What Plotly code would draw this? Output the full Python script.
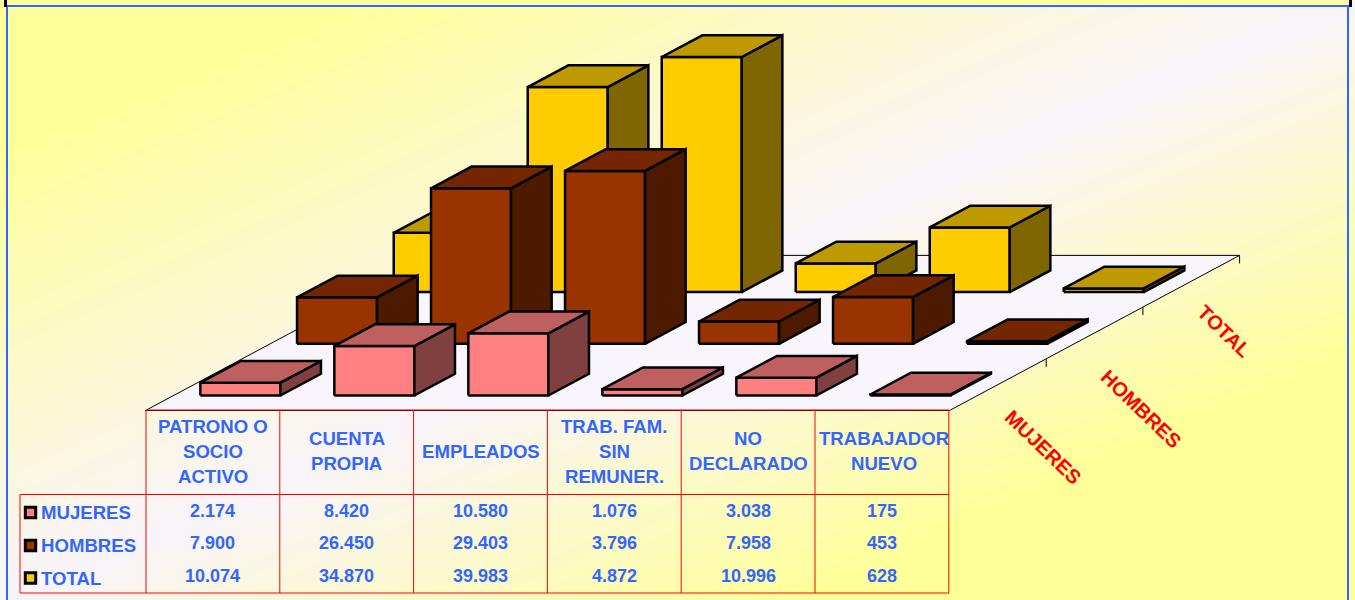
import plotly.graph_objects as go

# ---------- data ----------
categories = ["PATRONO O<br>SOCIO<br>ACTIVO", "CUENTA<br>PROPIA", "EMPLEADOS",
              "TRAB. FAM.<br>SIN<br>REMUNER.", "NO<br>DECLARADO", "TRABAJADOR<br>NUEVO"]
series_names = ["MUJERES", "HOMBRES", "TOTAL"]
mujeres = [2174, 8420, 10580, 1076, 3038, 175]
hombres = [7900, 26450, 29403, 3796, 7958, 453]
total = [10074, 34870, 39983, 4872, 10996, 628]
series_values = [mujeres, hombres, total]
front_colors = ["#FF8080", "#993300", "#FFCC00"]
top_colors = ["#BF6060", "#732600", "#BF9900"]
side_colors = ["#804040", "#4D1A00", "#806600"]

W, H = 1355, 600
X0, Y0 = 145.5, 410.5      # front-left corner of the floor, in page pixels
CAT_PX = 134.0             # width of one category
VAL_PX = 0.00588           # pixels per unit of value
DEPTH_DX = 96.7 / CAT_PX   # shear per series row, in category units
DEPTH_DY = 51.7 / VAL_PX   # shear per series row, in value units
BLUE, RED = "#3366FF", "#FF0000"
FONT = "Liberation Sans"


def proj(cat, depth, value):
    return cat + depth * DEPTH_DX, value + depth * DEPTH_DY


def px(x, y):
    return x / W, 1 - y / H


fig = go.Figure()

# ---------- background gradient ----------
gx = [(p - X0) / CAT_PX for p in (7, 350, 677, 1000, 1348)]
gy = [(Y0 - p) / VAL_PX for p in (6, 150, 300, 450, 600)]
gz = [[i + j for i in range(5)] for j in range(5)]
fig.add_trace(go.Heatmap(
    x=gx, y=gy, z=gz, zmin=0, zmax=8, zsmooth="best", showscale=False, hoverinfo="skip",
    colorscale=[[0, "#FFFF99"], [0.12, "#FFFF99"], [0.5, "#F9F4FA"], [0.8, "#FFFF99"], [1, "#FFFF99"]],
))

# ---------- floor ----------
corners = [proj(0, 0, 0), proj(6, 0, 0), proj(6, 3, 0), proj(0, 3, 0), proj(0, 0, 0)]
fig.add_trace(go.Scatter(x=[c[0] for c in corners], y=[c[1] for c in corners], mode="lines",
                         fill="toself", fillcolor="#F8F5FC", line=dict(color="#000000", width=1),
                         hoverinfo="skip", showlegend=False))
for d in (1, 2, 3):
    tx, ty = proj(6, d, 0)
    fig.add_trace(go.Scatter(x=[tx, tx], y=[ty, ty - 8 / VAL_PX], mode="lines",
                             line=dict(color="#000000", width=1), hoverinfo="skip", showlegend=False))

# ---------- 3-D bars, back row first ----------
GAP = 0.2           # inset of a bar within its category
BAR_W = 0.597       # bar width, in category units
DEPTH_INSET = 0.29  # inset of a bar within its series row
for s in (2, 1, 0):
    for c, v in enumerate(series_values[s]):
        x0, x1 = c + GAP, c + GAP + BAR_W
        d0, d1 = s + DEPTH_INSET, s + 1 - DEPTH_INSET
        faces = [
            ([(x0, d0, 0), (x1, d0, 0), (x1, d0, v), (x0, d0, v)], front_colors[s]),
            ([(x1, d0, 0), (x1, d1, 0), (x1, d1, v), (x1, d0, v)], side_colors[s]),
            ([(x0, d0, v), (x1, d0, v), (x1, d1, v), (x0, d1, v)], top_colors[s]),
        ]
        for pts, col in faces:
            pr = [proj(*p) for p in pts + pts[:1]]
            fig.add_trace(go.Scatter(
                x=[p[0] for p in pr], y=[p[1] for p in pr], mode="lines", fill="toself",
                fillcolor=col, line=dict(color="#000000", width=2.5), name=series_names[s],
                hovertemplate=f"{series_names[s]}: {v}<extra></extra>", showlegend=False))

shapes, annotations = [], []


def line(x0, y0, x1, y1, color=RED, width=1):
    a, b = px(x0, y0), px(x1, y1)
    shapes.append(dict(type="line", xref="paper", yref="paper", x0=a[0], y0=a[1], x1=b[0], y1=b[1],
                       line=dict(color=color, width=width)))


def text(s, x, y, color=BLUE, anchor="center", angle=0, size=18):
    a = px(x, y)
    annotations.append(dict(text=s, xref="paper", yref="paper", x=a[0], y=a[1], showarrow=False,
                            xanchor=anchor, yanchor="middle", textangle=angle,
                            font=dict(family=FONT, size=size, color=color)))


# ---------- data table ----------
col_x = [146 + 133.8 * i for i in range(7)]
for x in col_x:
    line(x, 410, x, 593)
line(146, 410, 949, 410)
line(20, 494.5, 949, 494.5)
line(20, 593, 949, 593)
line(20, 494.5, 20, 593)

row_y = [510.5, 543, 575.5]
label_y = [512.5, 545.5, 578]
for r, name in enumerate(series_names):
    text(f"<b>{name}</b>", 39, label_y[r], anchor="left", size=18.6)
    a, b = px(25.3, label_y[r] - 5.2), px(35.7, label_y[r] + 5.2)
    shapes.append(dict(type="rect", xref="paper", yref="paper", x0=a[0], y0=a[1], x1=b[0], y1=b[1],
                       fillcolor=front_colors[r], line=dict(color="#000000", width=3)))
    for c, v in enumerate(series_values[r]):
        text("<b>" + f"{v:,}".replace(",", ".") + "</b>", (col_x[c] + col_x[c + 1]) / 2, row_y[r])

for c, cat in enumerate(categories):
    lines = cat.split("<br>")
    cx = (col_x[c] + col_x[c + 1]) / 2
    if c == len(categories) - 1:
        cx += 2.5  # the last header sits slightly right of its cell centre
    for i, ln in enumerate(lines):
        text(f"<b>{ln}</b>", cx, 451 + (i - (len(lines) - 1) / 2) * 25, size=18.6)

# ---------- depth-axis labels ----------
for name, (lx, ly) in zip(series_names, [(1043, 447), (1141, 409), (1224, 331)]):
    text(f"<b>{name}</b>", lx, ly, color=RED, angle=44, size=20)

# ---------- frame ----------
a, b = px(0, 0), px(W, 5)
shapes.append(dict(type="rect", xref="paper", yref="paper", x0=px(7, 0)[0], x1=px(1348, 0)[0],
                   y0=b[1], y1=a[1], fillcolor="#FFFF99", line=dict(width=0)))
line(7, 6, 1349, 6, BLUE, 2)
line(7, 5, 7, 600, BLUE, 2)
line(1348, 5, 1348, 600, BLUE, 2)
for bx in ((4, 7), (1349, 1352)):
    shapes.append(dict(type="rect", xref="paper", yref="paper", x0=bx[0] / W, x1=bx[1] / W,
                       y0=px(0, 7)[1], y1=1, fillcolor="#000000", line=dict(width=0)))

fig.update_layout(
    width=W, height=H, margin=dict(l=0, r=0, t=0, b=0), showlegend=False,
    paper_bgcolor="#FFFFFF", plot_bgcolor="#FFFFFF",
    xaxis=dict(visible=False, range=[-X0 / CAT_PX, (W - X0) / CAT_PX], fixedrange=True),
    yaxis=dict(visible=False, range=[(Y0 - H) / VAL_PX, Y0 / VAL_PX], fixedrange=True),
    shapes=shapes, annotations=annotations,
)
fig.write_html("out.html", config=dict(displayModeBar=False),
               post_script="document.body.style.margin='0';document.documentElement.style.overflow='hidden';")
